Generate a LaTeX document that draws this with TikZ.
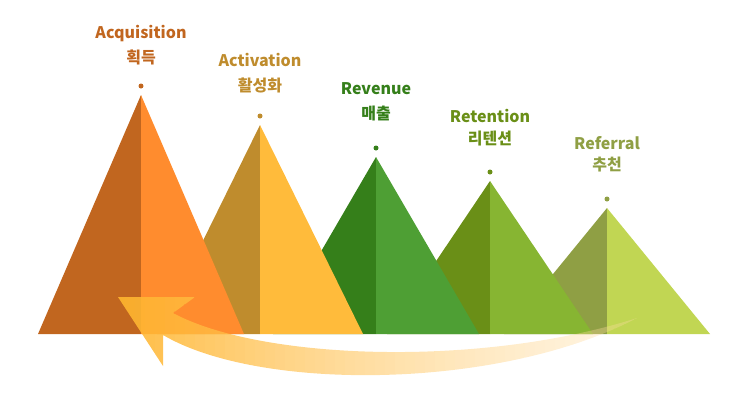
\documentclass[tikz,border=0pt]{standalone}
\usepackage{fontspec}
\setmainfont{Noto Sans CJK KR}

\definecolor{acqD}{HTML}{C1661F}
\definecolor{acqL}{HTML}{FF8C2E}
\definecolor{actD}{HTML}{BF8C2D}
\definecolor{actL}{HTML}{FFBB3B}
\definecolor{revD}{HTML}{357F1A}
\definecolor{revL}{HTML}{4E9F34}
\definecolor{retD}{HTML}{6A8F17}
\definecolor{retL}{HTML}{87B532}
\definecolor{refD}{HTML}{8F9F44}
\definecolor{refL}{HTML}{C1D653}
\definecolor{bandL}{HTML}{FFB52E}
\definecolor{bandR}{HTML}{FFDFA8}

\begin{document}
\begin{tikzpicture}[x=1pt, y=-1pt,
  lbl/.style={font=\bfseries\fontsize{16}{18}\selectfont, text=#1, inner sep=0pt}]
  \useasboundingbox (0,0) rectangle (750,400);
  \def\base{334}
  \def\hw{103}
  % triangles, back to front
  \foreach \x/\ytop/\dk/\lt in {
    607/208/refD/refL, 490/181/retD/retL, 376/157/revD/revL,
    260/125/actD/actL, 141/95/acqD/acqL}
  {
    \fill[\dk] (\x-\hw,\base) -- (\x,\ytop) -- (\x,\base) -- cycle;
    \fill[\lt] (\x,\ytop) -- (\x+\hw,\base) -- (\x,\base) -- cycle;
  }
  % dots and labels
  \foreach \name/\x/\yd/\yen/\yko/\en/\ko/\col in {
    acq/141/86/34/57/Acquisition/획득/acqD,
    act/260/116/60/85/Activation/활성화/actD,
    rev/376/148/89/113/Revenue/매출/revD,
    ret/490/172/116/139/Retention/리텐션/retD,
    ref/607/199/143/165/Referral/추천/refD}
  {
    \fill[\col] (\x,\yd) circle[radius=2.5pt];
    \node[lbl=\col] (\name-en) at (\x,\yen) {\en};
    \node[lbl=\col] (\name-ko) at (\x,\yko) {\ko};
  }
  % return arrow, fading out to the right
  \coordinate (tip) at (118,297);
  \coordinate (tail) at (637,318);
  \begin{scope}
    \clip (tip) -- (195,297) -- (173,313)
      .. controls (260,360) and (480,368) .. (tail)
      .. controls (500,390) and (260,392) .. (163,335)
      -- (163,366) -- cycle;
    \foreach \i in {0,...,52}
    {
      \pgfmathsetmacro{\p}{100*\i/52}
      \pgfmathsetmacro{\op}{0.9-0.6*\i/52}
      \fill[bandR!\p!bandL, fill opacity=\op] (115+10*\i,290) rectangle (125+10*\i,395);
    }
  \end{scope}
\end{tikzpicture}
\end{document}
